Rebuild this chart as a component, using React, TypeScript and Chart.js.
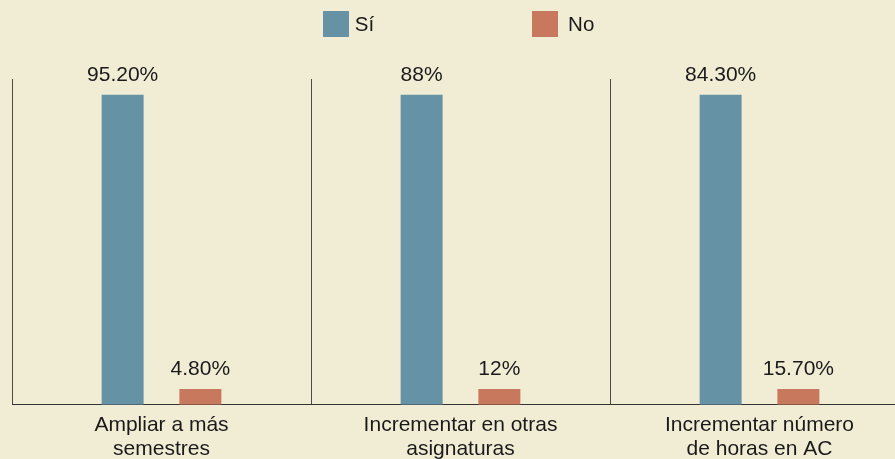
import { useEffect, useRef } from "react";
import { Chart, registerables } from "chart.js";

Chart.register(...registerables);

// ---- data ----
const categories = [
  ["Ampliar a más", "semestres"],
  ["Incrementar en otras", "asignaturas"],
  ["Incrementar número", "de horas en AC"],
];
const seriesNames = ["Sí", "No"];
// values printed on the bars
const siValues = [95.2, 88, 84.3];
const noValues = [4.8, 12, 15.7];
// bar heights as drawn in the picture (0–100 axis)
const siBarValues = [95.2, 95.2, 95.2];
const noBarValues = [4.8, 4.8, 4.8];

const FONT = "'Liberation Sans', Arial, sans-serif";
const COLORS = ["#6692A6", "#C8785C"];

const fmt = (v: number) => (Number.isInteger(v) ? `${v}%` : `${v.toFixed(2)}%`);

const valueLabelPlugin = {
  id: "valueLabels",
  afterDatasetsDraw(chart: any) {
    const ctx = chart.ctx;
    const printed = [siValues, noValues];
    ctx.save();
    ctx.font = `21px ${FONT}`;
    ctx.fillStyle = "#1a1a1a";
    ctx.textAlign = "center";
    ctx.textBaseline = "alphabetic";
    chart.data.datasets.forEach((_: any, di: number) => {
      const meta = chart.getDatasetMeta(di);
      meta.data.forEach((el: any, i: number) => {
        ctx.fillText(fmt(printed[di][i]), el.x, el.y - 14);
      });
    });
    ctx.restore();
  },
};

const legendPlugin = {
  id: "customLegend",
  afterDraw(chart: any) {
    const ctx = chart.ctx;
    const area = chart.chartArea;
    const box = 26;
    const gaps = [6, 10];
    const spacing = 158;
    ctx.save();
    ctx.font = `20.5px ${FONT}`;
    const widths = seriesNames.map((n) => ctx.measureText(n).width);
    const total =
      widths.reduce((a, w, i) => a + box + gaps[i] + w, 0) + spacing * (seriesNames.length - 1);
    let x = (area.left + area.right) / 2 - 2 - total / 2;
    const top = 11;
    seriesNames.forEach((name, i) => {
      ctx.fillStyle = COLORS[i];
      ctx.fillRect(Math.round(x), top, box, box);
      ctx.fillStyle = "#1a1a1a";
      ctx.textAlign = "left";
      ctx.textBaseline = "middle";
      ctx.fillText(name, x + box + gaps[i], top + box / 2 + 1);
      x += box + gaps[i] + widths[i] + spacing;
    });
    ctx.restore();
  },
};

export default function App() {
  const ref = useRef<HTMLCanvasElement | null>(null);

  useEffect(() => {
    if (!ref.current) return;
    const chart = new Chart(ref.current, {
      type: "bar",
      data: {
        labels: categories,
        datasets: [
          {
            label: seriesNames[0],
            data: siBarValues,
            backgroundColor: COLORS[0],
            categoryPercentage: 0.52,
            barPercentage: 0.54,
          },
          {
            label: seriesNames[1],
            data: noBarValues,
            backgroundColor: COLORS[1],
            categoryPercentage: 0.52,
            barPercentage: 0.54,
          },
        ],
      },
      options: {
        responsive: false,
        animation: false,
        devicePixelRatio: 1,
        layout: { padding: { top: 79, left: 12, right: 0, bottom: -10 } },
        plugins: {
          legend: { display: false },
          tooltip: { enabled: false },
        },
        scales: {
          x: {
            grid: { offset: true, color: "#4a4a4a", lineWidth: 1, drawTicks: false },
            border: { display: true, color: "#333333" },
            ticks: {
              color: "#1a1a1a",
              font: { family: FONT, size: 21, lineHeight: 1.15 },
              padding: 8,
              maxRotation: 0,
              autoSkip: false,
            },
          },
          y: { display: false, min: 0, max: 100 },
        },
      },
      plugins: [valueLabelPlugin, legendPlugin],
    });
    return () => chart.destroy();
  }, []);

  return (
    <div
      style={{
        position: "fixed",
        left: 0,
        top: 0,
        width: 895,
        height: 459,
        overflow: "hidden",
        background: "#F1EDD5",
      }}
    >
      <canvas ref={ref} width={909} height={459} style={{ display: "block", width: 909, height: 459 }} />
    </div>
  );
}
